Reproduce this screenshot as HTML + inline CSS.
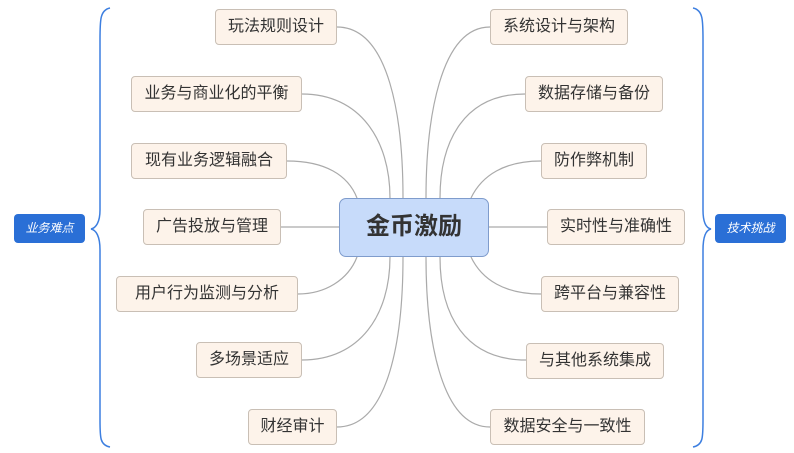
<!DOCTYPE html>
<html><head><meta charset="utf-8"><style>
body{margin:0;background:#fff;width:794px;height:453px;overflow:hidden;position:relative;font-family:"Liberation Sans","Noto Sans CJK SC",sans-serif}
.n{position:absolute;line-height:34px;background:#fdf3ea;border:1px solid #c9bfb5;border-radius:4px;font-size:16px;color:#333;text-align:center;box-sizing:border-box;height:36px;white-space:nowrap}
.tag{position:absolute;background:#2a6fd6;color:#fff;font-style:italic;font-size:12px;text-align:center;border-radius:4px;line-height:29px;height:29px;width:71px}
.c{position:absolute;left:339px;top:198px;width:150px;height:59px;background:#c7dbfa;border:1.5px solid #7f9ccc;border-radius:7px;box-sizing:border-box;text-align:center;line-height:56px;font-size:24px;font-weight:bold;color:#333}
svg{position:absolute;left:0;top:0}
</style></head><body>
<svg width="794" height="453" fill="none">
<g stroke="#aaa" stroke-width="1.2">
<path d="M337 27 C390 27 403 120 403 198"/>
<path d="M302 94 C360 94 390 140 390 198"/>
<path d="M287 161 C325 161 348 175 357 198"/>
<path d="M281 227 L339 227"/>
<path d="M298 294 C325 294 348 280 357 257"/>
<path d="M302 360 C360 360 390 315 390 257"/>
<path d="M337 427 C390 427 403 335 403 257"/>
<path d="M490 27 C440 27 426 120 426 198"/>
<path d="M525 94 C465 94 440 140 440 198"/>
<path d="M541 161 C505 161 482 175 471 198"/>
<path d="M547 227 L489 227"/>
<path d="M541 294 C505 294 482 280 471 257"/>
<path d="M526 360 C465 360 440 315 440 257"/>
<path d="M490 427 C440 427 426 335 426 257"/>
</g>
<g stroke="#3d7fe0" stroke-width="1.5">
<path d="M110 8 C100 10 100 20 100 40 L100 210 C100 222 96 228 91 229 C96 230 100 236 100 250 L100 420 C100 438 100 445 110 447"/>
<path d="M693 8 C703 10 703 20 703 40 L703 210 C703 222 706 228 711 229 C706 230 703 236 703 250 L703 420 C703 438 703 445 693 447"/>
</g>
</svg>
<div class="tag" style="left:14px;top:214px">业务难点</div>
<div class="tag" style="left:715px;top:214px">技术挑战</div>
<div class="c">金币激励</div>
<div class="n" style="left:215px;top:9px;width:122px">玩法规则设计</div>
<div class="n" style="left:131px;top:76px;width:171px">业务与商业化的平衡</div>
<div class="n" style="left:131px;top:143px;width:156px">现有业务逻辑融合</div>
<div class="n" style="left:143px;top:209px;width:138px">广告投放与管理</div>
<div class="n" style="left:116px;top:276px;width:182px">用户行为监测与分析</div>
<div class="n" style="left:196px;top:342px;width:106px">多场景适应</div>
<div class="n" style="left:248px;top:409px;width:89px">财经审计</div>
<div class="n" style="left:490px;top:9px;width:138px">系统设计与架构</div>
<div class="n" style="left:525px;top:76px;width:138px">数据存储与备份</div>
<div class="n" style="left:541px;top:143px;width:106px">防作弊机制</div>
<div class="n" style="left:547px;top:209px;width:138px">实时性与准确性</div>
<div class="n" style="left:541px;top:276px;width:138px">跨平台与兼容性</div>
<div class="n" style="left:526px;top:343px;width:138px">与其他系统集成</div>
<div class="n" style="left:490px;top:409px;width:155px">数据安全与一致性</div>
</body></html>
